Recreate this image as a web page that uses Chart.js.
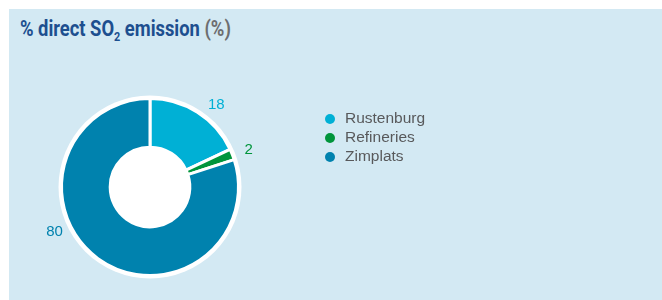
<!DOCTYPE html>
<html>
<head>
<meta charset="utf-8">
<script src="https://cdn.jsdelivr.net/npm/chart.js@4"></script>
<style>
  html, body { margin: 0; padding: 0; background: #fff; }
  body { width: 662px; height: 300px; position: relative; overflow: hidden; }
  #panel { position: absolute; left: 9px; top: 9px; width: 653px; height: 291px; background: #d3e9f3; }
  #title { position: absolute; left: 11px; top: 7px; font-family: Roboto, "Liberation Sans", sans-serif;
           font-weight: 700; font-size: 22px; color: #1d4f8f; white-space: nowrap; transform-origin: 0 0; }
  #title .unit { color: #6d6e70; }
  #title sub { font-size: 13px; vertical-align: -5px; line-height: 0; }
  #chartWrap { position: absolute; left: 0; top: 0; width: 653px; height: 291px; }
  #legend { position: absolute; left: 316px; top: 99px; font-family: "Liberation Sans", Arial, sans-serif; font-size: 15.5px; color: #58595b; }
  #legend .row { height: 19px; line-height: 19px; white-space: nowrap; }
  #legend .dot { display: inline-block; width: 10px; height: 10px; border-radius: 50%; margin-right: 10px; vertical-align: -1px; }
</style>
</head>
<body>
<div id="panel">
  <div id="title">% direct SO<sub>2</sub> emission <span class="unit">(%)</span></div>
  <div id="chartWrap"><canvas id="so2Chart" width="653" height="291"></canvas></div>
  <div id="legend"></div>
</div>
<script>
const categories = ["Rustenburg", "Refineries", "Zimplats"];
const shares = [18, 2, 80];
const sliceColors = ["#00b0d5", "#00953b", "#0082ae"];

// condensed look for the title: squeeze to the reference width
const title = document.getElementById("title");
title.style.transform = "scaleX(" + (211 / title.offsetWidth) + ")";

// white disc behind the ring (outer halo + filled hole)
const whiteDisc = {
  id: "whiteDisc",
  beforeDatasetsDraw(chart) {
    const arc = chart.getDatasetMeta(0).data[0];
    if (!arc) return;
    const ctx = chart.ctx;
    ctx.save();
    ctx.fillStyle = "#ffffff";
    ctx.beginPath();
    ctx.arc(arc.x, arc.y, arc.outerRadius + 3, 0, Math.PI * 2);
    ctx.fill();
    ctx.restore();
  }
};

// value labels outside the slices
const outerLabels = {
  id: "outerLabels",
  afterDatasetsDraw(chart) {
    const ctx = chart.ctx;
    const meta = chart.getDatasetMeta(0);
    ctx.save();
    ctx.font = "15px 'Liberation Sans', Arial, sans-serif";
    ctx.textAlign = "center";
    ctx.textBaseline = "middle";
    meta.data.forEach((arc, i) => {
      const a = arc.startAngle + (arc.endAngle - arc.startAngle) * 0.6;
      const r = arc.outerRadius + 17;
      ctx.fillStyle = sliceColors[i];
      ctx.fillText(String(shares[i]), arc.x + Math.cos(a) * r, arc.y + Math.sin(a) * r);
    });
    ctx.restore();
  }
};

new Chart(document.getElementById("so2Chart"), {
  type: "doughnut",
  data: {
    labels: categories,
    datasets: [
      {
        data: shares,
        backgroundColor: sliceColors,
        borderColor: "#ffffff",
        borderWidth: 3,
        hoverOffset: 0
      }
    ]
  },
  options: {
    responsive: false,
    animation: false,
    cutout: "45%",
    layout: { padding: { left: 51, top: 88, right: 422, bottom: 23 } },
    plugins: {
      legend: { display: false },
      tooltip: { enabled: false }
    }
  },
  plugins: [whiteDisc, outerLabels]
});

const legend = document.getElementById("legend");
categories.forEach((name, i) => {
  const row = document.createElement("div");
  row.className = "row";
  row.innerHTML = '<span class="dot" style="background:' + sliceColors[i] + '"></span>' + name;
  legend.appendChild(row);
});
</script>
</body>
</html>
